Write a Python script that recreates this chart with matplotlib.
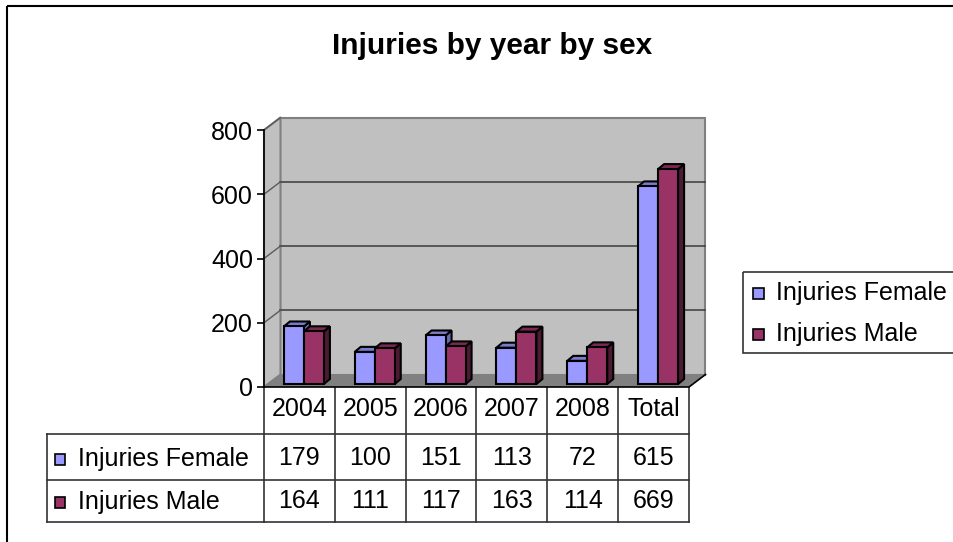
import matplotlib
matplotlib.use('Agg')
import matplotlib.pyplot as plt
from matplotlib.patches import Rectangle, Polygon
from matplotlib.transforms import blended_transform_factory

# ---- data ----
categories = ['2004', '2005', '2006', '2007', '2008', 'Total']
female = [179, 100, 151, 113, 72, 615]
male = [164, 111, 117, 163, 114, 669]
series_names = ['Injuries Female', 'Injuries Male']
yticks = [0, 200, 400, 600, 800]
title = 'Injuries by year by sex'

# ---- styles ----
FEM = dict(front='#9999FF', top='#7B7BCC', side='#6B6BB3')
MAL = dict(front='#993366', top='#7A2952', side='#4D1A33')
FS = 18

plt.rcParams['font.family'] = ['Liberation Sans', 'DejaVu Sans']

W, H = 954, 542
fig = plt.figure(figsize=(W / 100, H / 100), dpi=100)


def fx(px):
    return px / W


def fy(py):
    return 1 - py / H


# overlay axes in pixel coordinates (for layout furniture)
ov = fig.add_axes([0, 0, 1, 1])
ov.set_xlim(0, W)
ov.set_ylim(H, 0)
ov.axis('off')
ov.set_zorder(0)

# chart area border
ov.add_patch(Rectangle((7.5, 6), 960, 560, fill=False, ec='black', lw=1.5, clip_on=False))

# title
ov.text(492, 46, title, ha='center', va='center', fontsize=21.5, fontweight='bold')

# main plot axes (front plane)
L, R, T, B = 264, 689, 130, 387
ax = fig.add_axes([fx(L), fy(B), fx(R) - fx(L), fy(T) - fy(B)])
ax.set_zorder(1)
n = len(categories)
x0, x1 = -0.5, n - 0.5
ymax = yticks[-1]
ax.set_xlim(x0, x1)
ax.set_ylim(0, ymax)
ax.patch.set_visible(False)
for s in ['top', 'right', 'bottom']:
    ax.spines[s].set_visible(False)
ax.spines['left'].set_color('black')
ax.spines['left'].set_linewidth(1.2)
ax.spines['left'].set_zorder(3)
ax.set_xticks([])
ax.set_yticks(yticks)
ax.set_yticklabels([str(v) for v in yticks], fontsize=FS)
ax.tick_params(axis='y', length=5, width=1.2, pad=3, colors='black')

sx = (x1 - x0) / (R - L)     # data units per pixel (x)
sy = ymax / (B - T)          # data units per pixel (y)

# walls & floor
wdx, wdy = 16.5 * sx, 12.5 * sy
ax.add_patch(Rectangle((x0 + wdx, wdy), x1 - x0, ymax, fc='#C0C0C0', ec='#808080',
                       lw=1.5, zorder=1, clip_on=False))
ax.add_patch(Polygon([(x0, 0), (x0, ymax), (x0 + wdx, ymax + wdy), (x0 + wdx, wdy)],
                     closed=True, fc='#C0C0C0', ec='#808080', lw=1.5, zorder=1, clip_on=False))
for v in yticks[1:-1]:
    ax.plot([x0 + wdx, x1 + wdx], [v + wdy, v + wdy], color='#3a3a3a', lw=1.1, zorder=1.2,
            clip_on=False)
for v in yticks[1:]:
    ax.plot([x0, x0 + wdx], [v, v + wdy], color='#5a5a5a', lw=1.0, zorder=1.2, clip_on=False)
ax.add_patch(Polygon([(x0, 0), (x1, 0), (x1 + wdx, wdy), (x0 + wdx, wdy)], closed=True,
                     fc='#808080', ec='none', zorder=1.5, clip_on=False))
ax.plot([x0, x1, x1 + wdx], [0, 0, wdy], color='black', lw=1.2, zorder=2.9, clip_on=False)

# bars
bw = 20 * sx
fdx, fdy = 4.5 * sx, 3 * sy
ddx, ddy = 6 * sx, 5 * sy
z = [2.0]


def bar3d(xl, h, c):
    xa = xl + fdx
    xb = xa + bw
    y0 = fdy
    y1 = fdy + h
    kw = dict(ec='black', lw=1.5, joinstyle='miter', clip_on=False)
    ax.add_patch(Polygon([(xb, y0), (xb + ddx, y0 + ddy), (xb + ddx, y1 + ddy), (xb, y1)],
                         closed=True, fc=c['side'], zorder=z[0], **kw))
    ax.add_patch(Polygon([(xa, y1), (xb, y1), (xb + ddx, y1 + ddy), (xa + ddx, y1 + ddy)],
                         closed=True, fc=c['top'], zorder=z[0], **kw))
    ax.add_patch(Rectangle((xa, y0), bw, h, fc=c['front'], zorder=z[0] + 0.01, **kw))
    z[0] += 0.02


for i in range(n):
    bar3d(i - bw, female[i], FEM)
    bar3d(i, male[i], MAL)

# ---- data table ----
tr = blended_transform_factory(ax.transData, ov.transData)
tcol = '#333333'
row_top, row1, row2, row_bot = 387, 434, 479.5, 521.5
tab_left = 47
for i in range(n + 1):
    ov.plot([i - 0.5, i - 0.5], [row_top, row_bot], color=tcol, lw=1.2, transform=tr,
            clip_on=False, zorder=2)
for yy in [row1, row2, row_bot]:
    ov.plot([x0, x1], [yy, yy], color=tcol, lw=1.2, transform=tr, clip_on=False, zorder=2)
    ov.plot([tab_left, L], [yy, yy], color=tcol, lw=1.2, clip_on=False, zorder=2)
ov.plot([tab_left, tab_left], [row1, row_bot], color=tcol, lw=1.2, clip_on=False, zorder=2)

for i, c in enumerate(categories):
    ov.text(i, 409, c, transform=tr, ha='center', va='center', fontsize=FS)
    ov.text(i, 458, str(female[i]), transform=tr, ha='center', va='center', fontsize=FS)
    ov.text(i, 501, str(male[i]), transform=tr, ha='center', va='center', fontsize=FS)

for yc, nm, c in [(459, series_names[0], FEM), (502, series_names[1], MAL)]:
    ov.add_patch(Rectangle((55, yc - 5.5), 10.5, 11, fc=c['front'], ec='black', lw=1.2))
    ov.text(78, yc, nm, ha='left', va='center', fontsize=FS)

# ---- legend ----
ov.add_patch(Rectangle((743, 272), 230, 81, fill=False, ec='#333333', lw=1.2, clip_on=False))
for yc, nm, c in [(293, series_names[0], FEM), (334, series_names[1], MAL)]:
    ov.add_patch(Rectangle((753.5, yc - 5.5), 10.5, 11, fc=c['front'], ec='black', lw=1.2))
    ov.text(776, yc, nm, ha='left', va='center', fontsize=FS)

fig.savefig('out.png', dpi=100)
